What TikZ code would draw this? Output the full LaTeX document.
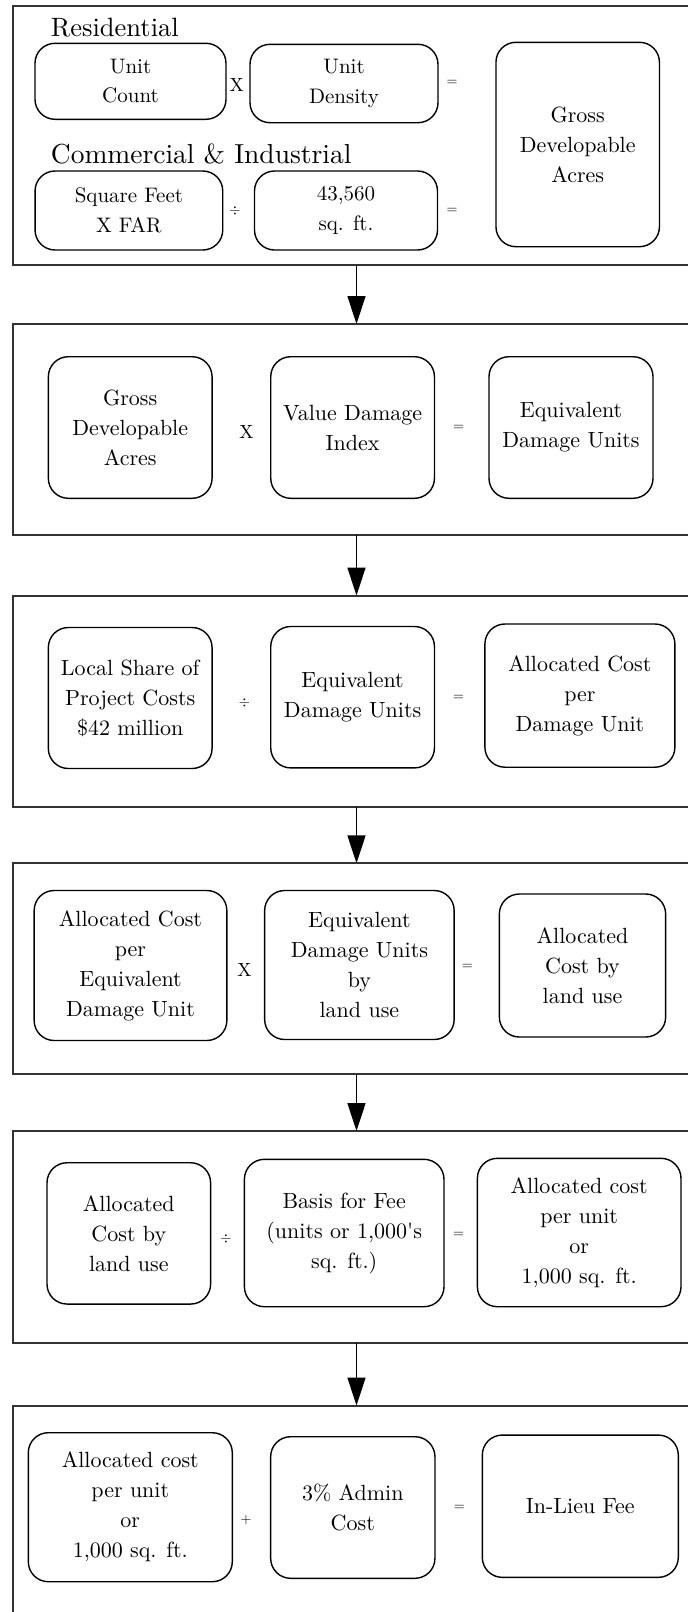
\documentclass[tikz,border=0pt]{standalone}
\usepackage{fontspec}
\setmainfont{lmroman10-regular}[Extension=.otf]
\usetikzlibrary{arrows.meta}
\begin{document}
\begin{tikzpicture}[x=1pt,y=-1pt,
  panel/.style={draw=black!80, line width=2pt, rectangle, inner sep=0pt, outer sep=0pt, minimum width=687pt},
  rbox/.style={draw=black, line width=1.4pt, rounded corners=20pt, align=center, inner sep=0pt, outer sep=0pt, font=\fontsize{22}{30}\selectfont},
  opx/.style={inner sep=0pt, font=\fontsize{19}{20}\selectfont},
  opsm/.style={inner sep=0pt, font=\fontsize{14}{15}\selectfont},
  head/.style={inner sep=0pt, anchor=base west, font=\fontsize{26.5}{30}\selectfont},
  flow/.style={draw=black, line width=1.5pt, -{Triangle[length=28pt,width=18pt]}}
]
\useasboundingbox (0,0) rectangle (688,1612);
\clip (0,0) rectangle (688,1612);

% panels
\node[panel, minimum height=259pt] (P1) at (356.5,135.5) {};
\node[panel, minimum height=211pt] (P2) at (356.5,429.5) {};
\node[panel, minimum height=211pt] (P3) at (356.5,701) {};
\node[panel, minimum height=211pt] (P4) at (356.5,968.8) {};
\node[panel, minimum height=211.7pt] (P5) at (356.5,1236.9) {};
\node[panel, minimum height=294.5pt] (P6) at (356.5,1552.75) {};

% panel 1
\node[head] (hres) at (50.7,36) {Residential};
\node[head, font=\fontsize{27.5}{30}\selectfont] (hcom) at (50.7,163.3) {Commercial \& Industrial};
\node[rbox, minimum width=191pt, minimum height=76pt, font=\fontsize{21}{29.5}\selectfont] (uc) at (130.5,81.3) {Unit\\Count};
\node[opx] (x1) at (236.7,85) {X};
\node[rbox, minimum width=188pt, minimum height=78.4pt, font=\fontsize{21}{29.5}\selectfont] (ud) at (344,83.5) {Unit\\Density};
\node[opsm] (e1) at (452,83) {=};
\node[rbox, minimum width=163.5pt, minimum height=204.4pt] (gda) at (577.7,144.5) {Gross\\Developable\\Acres};
\node[rbox, minimum width=187.7pt, minimum height=79pt, font=\fontsize{21}{29.5}\selectfont] (sf) at (128.9,210.5) {Square Feet\\X FAR};
\node[opsm] (d1) at (235,211) {$\div$};
\node[rbox, minimum width=183pt, minimum height=79pt, font=\fontsize{21}{29.5}\selectfont] (acre) at (346,210.5) {43,560\\sq. ft.};
\node[opsm] (e2) at (452,211) {=};

% panel 2
\node[rbox, minimum width=163.7pt, minimum height=141.6pt] (gda2) at (130.2,427.5) {Gross\\Developable\\Acres};
\node[opx] (x2) at (246.6,431.7) {X};
\node[rbox, minimum width=163.7pt, minimum height=141.6pt] (vdi) at (352.6,427.5) {Value Damage\\Index};
\node[opsm] (e3) at (458.5,428) {=};
\node[rbox, minimum width=164pt, minimum height=141.6pt] (edu) at (571,427.5) {Equivalent\\Damage Units};

% panel 3
\node[rbox, minimum width=163.7pt, minimum height=141pt] (ls) at (130.2,698) {Local Share of\\Project Costs\\\$42 million};
\node[opsm] (d2) at (244.4,702.6) {$\div$};
\node[rbox, minimum width=163.7pt, minimum height=141.4pt] (edu3) at (352.6,697.2) {Equivalent\\Damage Units};
\node[opsm] (e4) at (458.5,698.4) {=};
\node[rbox, minimum width=190pt, minimum height=143.2pt] (acdu) at (579.9,695.6) {Allocated Cost\\per\\Damage Unit};

% panel 4
\node[rbox, minimum width=192.7pt, minimum height=150pt] (acedu) at (130.5,965.5) {Allocated Cost\\per\\Equivalent\\Damage Unit};
\node[opx] (x3) at (244.4,970) {X};
\node[rbox, minimum width=189.5pt, minimum height=149pt] (edulu) at (359.4,965) {Equivalent\\Damage Units\\by\\land use};
\node[opsm] (e5) at (467.3,966.8) {=};
\node[rbox, minimum width=166.3pt, minimum height=143pt] (aclu) at (582.5,965.5) {Allocated\\Cost by\\land use};

% panel 5
\node[rbox, minimum width=163.6pt, minimum height=141.3pt] (aclu5) at (128.8,1233.4) {Allocated\\Cost by\\land use};
\node[opsm] (d3) at (226,1239) {$\div$};
\node[rbox, minimum width=199.6pt, minimum height=147.4pt] (bf) at (344.2,1233) {Basis for Fee\\(units or 1,000\textquotesingle s\\sq. ft.)};
\node[opsm] (e6) at (458.5,1235) {=};
\node[rbox, minimum width=203.6pt, minimum height=148.4pt] (acpu) at (579.2,1232.5) {Allocated cost\\per unit\\or\\1,000 sq. ft.};

% panel 6
\node[rbox, minimum width=204pt, minimum height=149pt] (acpu6) at (130.3,1507.2) {Allocated cost\\per unit\\or\\1,000 sq. ft.};
\node[opsm] (p1) at (246,1520) {+};
\node[rbox, minimum width=164.3pt, minimum height=141.6pt] (adm) at (352.8,1507.5) {3\% Admin\\Cost};
\node[opsm] (e7) at (459.3,1508.3) {=};
\node[rbox, minimum width=196pt, minimum height=142.3pt] (ilf) at (580.3,1506.2) {In-Lieu Fee};

% connectors
\draw[flow] (P1.south) -- (P2.north);
\draw[flow] (P2.south) -- (P3.north);
\draw[flow] (P3.south) -- (P4.north);
\draw[flow] (P4.south) -- (P5.north);
\draw[flow] (P5.south) -- (P6.north);
\end{tikzpicture}
\end{document}
